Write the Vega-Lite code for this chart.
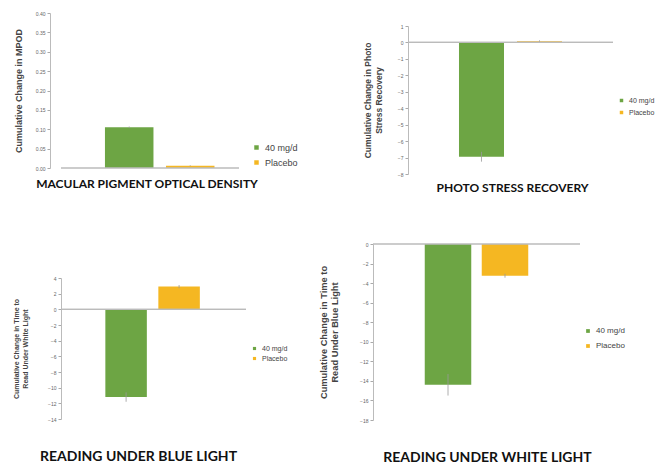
{
  "$schema": "https://vega.github.io/schema/vega-lite/v6.json",
  "description": "Cumulative change, 40 mg/d vs placebo, four outcome measures.",
  "padding": {"left": 12, "top": 11, "right": 0, "bottom": 0},
  "background": "white",
  "data": {
    "values": [
      {"panel": "mpod", "group": "40 mg/d", "value": 0.105, "lo": 0.103, "hi": 0.107},
      {"panel": "mpod", "group": "Placebo", "value": 0.006, "lo": 0.005, "hi": 0.007},
      {"panel": "psr", "group": "40 mg/d", "value": -6.95, "lo": -7.25, "hi": -6.65},
      {"panel": "psr", "group": "Placebo", "value": 0.08, "lo": 0.03, "hi": 0.13},
      {"panel": "blue", "group": "40 mg/d", "value": -11.2, "lo": -11.8, "hi": -10.6},
      {"panel": "blue", "group": "Placebo", "value": 2.9, "lo": 2.7, "hi": 3.1},
      {"panel": "white", "group": "40 mg/d", "value": -14.4, "lo": -15.5, "hi": -13.3},
      {"panel": "white", "group": "Placebo", "value": -3.25, "lo": -3.45, "hi": -3.05}
    ]
  },
  "columns": 1,
  "align": "none",
  "spacing": 48,
  "concat": [
    {
      "spacing": 65,
      "hconcat": [
        {
          "width": 178,
          "height": 155,
          "title": {"text": "MACULAR PIGMENT OPTICAL DENSITY", "orient": "bottom", "frame": "group", "dx": -3, "offset": 8},
          "transform": [{"filter": "datum.panel == 'mpod'"}],
          "layer": [
            {
              "mark": {"type": "bar"},
              "encoding": {
                "x": {"field": "group", "type": "nominal", "axis": null,
                  "scale": {"paddingInner": 0.205, "paddingOuter": 0.561, "align": 0.642}},
                "y": {"field": "value", "type": "quantitative",
                  "scale": {"domain": [0, 0.4]},
                  "axis": {"values": [0, 0.05, 0.1, 0.15, 0.2, 0.25, 0.3, 0.35, 0.4], "format": ".2f", "tickCount": 30, "offset": 11,
                    "title": "Cumulative Change in MPOD", "titleFontSize": 9, "titlePadding": 12}},
                "color": {"field": "group", "type": "nominal",
                  "scale": {"range": ["#6DA544", "#F5B722"]},
                  "legend": {"orient": "none", "legendX": 191, "legendY": 130, "labelFontSize": 9, "symbolSize": 20, "rowPadding": 5}}
              }
            },
            {
              "mark": {"type": "rule", "color": "#999", "strokeWidth": 0.8},
              "encoding": {
                "x": {"field": "group", "type": "nominal", "axis": null},
                "y": {"field": "lo", "type": "quantitative",
                  "axis": {"values": [0, 0.05, 0.1, 0.15, 0.2, 0.25, 0.3, 0.35, 0.4], "format": ".2f", "tickCount": 30, "offset": 11,
                    "title": "Cumulative Change in MPOD", "titleFontSize": 9, "titlePadding": 12}},
                "y2": {"field": "hi"}}
            },
            {
              "mark": {"type": "rule", "color": "#bbb", "strokeWidth": 1.2},
              "encoding": {"y": {"datum": 0}}
            }
          ]
        },
        {
          "width": 205,
          "height": 161,
          "title": {"text": "PHOTO STRESS RECOVERY", "orient": "bottom", "frame": "group", "dx": 2, "offset": 6},
          "transform": [{"filter": "datum.panel == 'psr'"}],
          "layer": [
            {
              "mark": {"type": "bar"},
              "encoding": {
                "x": {"field": "group", "type": "nominal", "axis": null,
                  "scale": {"paddingInner": 0.224, "paddingOuter": 0.879, "align": 0.5}},
                "y": {"field": "value", "type": "quantitative",
                  "scale": {"domain": [-8, 1], "range": [161, 13]},
                  "axis": {"values": [1, 0, -1, -2, -3, -4, -5, -6, -7, -8], "format": "d", "tickCount": 30,
                    "title": ["Cumulative Change in Photo", "Stress Recovery"], "titleFontSize": 8.5, "titlePadding": 14}},
                "color": {"field": "group", "type": "nominal",
                  "scale": {"range": ["#6DA544", "#F5B722"]},
                  "legend": {"orient": "none", "legendX": 210, "legendY": 84, "labelFontSize": 7, "symbolSize": 12, "rowPadding": 4}}
              }
            },
            {
              "mark": {"type": "rule", "color": "#999", "strokeWidth": 0.8},
              "encoding": {
                "x": {"field": "group", "type": "nominal", "axis": null},
                "y": {"field": "lo", "type": "quantitative",
                  "axis": {"values": [1, 0, -1, -2, -3, -4, -5, -6, -7, -8], "format": "d", "tickCount": 30,
                    "title": ["Cumulative Change in Photo", "Stress Recovery"], "titleFontSize": 8.5, "titlePadding": 14}},
                "y2": {"field": "hi"}}
            },
            {
              "mark": {"type": "rule", "color": "#bbb", "strokeWidth": 1.2},
              "encoding": {"y": {"datum": 0}}
            }
          ]
        }
      ],
      "resolve": {"scale": {"color": "independent", "y": "independent", "x": "independent"}}
    },
    {
      "spacing": 31,
      "hconcat": [
        {
          "width": 185,
          "height": 175,
          "title": {"text": "READING UNDER BLUE LIGHT", "orient": "bottom", "frame": "group", "dx": -15, "offset": 28, "fontSize": 14},
          "transform": [{"filter": "datum.panel == 'blue'"}],
          "layer": [
            {
              "mark": {"type": "bar"},
              "encoding": {
                "x": {"field": "group", "type": "nominal", "axis": null,
                  "scale": {"paddingInner": 0.217, "paddingOuter": 0.854, "align": 0.49}},
                "y": {"field": "value", "type": "quantitative",
                  "scale": {"domain": [-14, 4], "range": [175, 34]},
                  "axis": {"values": [4, 2, 0, -2, -4, -6, -8, -10, -12, -14], "format": "d", "tickCount": 30,
                    "title": ["Cumulative Change in Time to", "Read Under White Light"], "titleFontSize": 7, "titlePadding": 19}},
                "color": {"field": "group", "type": "nominal",
                  "scale": {"range": ["#6DA544", "#F5B722"]},
                  "legend": {"orient": "none", "legendX": 190, "legendY": 101, "labelFontSize": 7, "symbolSize": 10, "rowPadding": 2}}
              }
            },
            {
              "mark": {"type": "rule", "color": "#999", "strokeWidth": 0.8},
              "encoding": {
                "x": {"field": "group", "type": "nominal", "axis": null},
                "y": {"field": "lo", "type": "quantitative",
                  "axis": {"values": [4, 2, 0, -2, -4, -6, -8, -10, -12, -14], "format": "d", "tickCount": 30,
                    "title": ["Cumulative Change in Time to", "Read Under White Light"], "titleFontSize": 7, "titlePadding": 19}},
                "y2": {"field": "hi"}}
            },
            {
              "mark": {"type": "rule", "color": "#bbb", "strokeWidth": 1.2},
              "encoding": {"y": {"datum": 0}}
            }
          ]
        },
        {
          "width": 207,
          "height": 176,
          "title": {"text": "READING UNDER WHITE LIGHT", "orient": "bottom", "frame": "group", "dx": 11, "offset": 28, "fontSize": 14},
          "transform": [{"filter": "datum.panel == 'white'"}],
          "layer": [
            {
              "mark": {"type": "bar"},
              "encoding": {
                "x": {"field": "group", "type": "nominal", "axis": null,
                  "scale": {"paddingInner": 0.184, "paddingOuter": 0.908, "align": 0.5}},
                "y": {"field": "value", "type": "quantitative",
                  "scale": {"domain": [-18, 0]},
                  "axis": {"values": [0, -2, -4, -6, -8, -10, -12, -14, -16, -18], "format": "d", "tickCount": 30,
                    "title": ["Cumulative Change in Time to", "Read Under Blue Light"], "titleFontSize": 9.3, "titlePadding": 20}},
                "color": {"field": "group", "type": "nominal",
                  "scale": {"range": ["#6DA544", "#F5B722"]},
                  "legend": {"orient": "none", "legendX": 211, "legendY": 83, "labelFontSize": 8, "symbolSize": 14, "rowPadding": 7}}
              }
            },
            {
              "mark": {"type": "rule", "color": "#999", "strokeWidth": 0.8},
              "encoding": {
                "x": {"field": "group", "type": "nominal", "axis": null},
                "y": {"field": "lo", "type": "quantitative",
                  "axis": {"values": [0, -2, -4, -6, -8, -10, -12, -14, -16, -18], "format": "d", "tickCount": 30,
                    "title": ["Cumulative Change in Time to", "Read Under Blue Light"], "titleFontSize": 9.3, "titlePadding": 20}},
                "y2": {"field": "hi"}}
            },
            {
              "mark": {"type": "rule", "color": "#bbb", "strokeWidth": 1.2},
              "encoding": {"y": {"datum": 0}}
            }
          ]
        }
      ],
      "resolve": {"scale": {"color": "independent", "y": "independent", "x": "independent"}}
    }
  ],
  "resolve": {"scale": {"color": "independent", "y": "independent", "x": "independent"}},
  "config": {
    "view": {"stroke": null},
    "font": "Liberation Sans",
    "axis": {
      "grid": false,
      "labelFontSize": 5,
      "labelColor": "#666",
      "labelOverlap": false,
      "tickColor": "#aaa",
      "tickSize": 3,
      "domainColor": "#bbb",
      "titleColor": "#444",
      "titleFontWeight": "bold",
      "labelPadding": 2
    },
    "legend": {
      "title": null,
      "symbolType": "square",
      "labelColor": "#444",
      "labelFont": "Liberation Sans"
    },
    "title": {
      "font": "Lato",
      "fontSize": 12,
      "fontWeight": "bold",
      "color": "#111"
    }
  }
}
